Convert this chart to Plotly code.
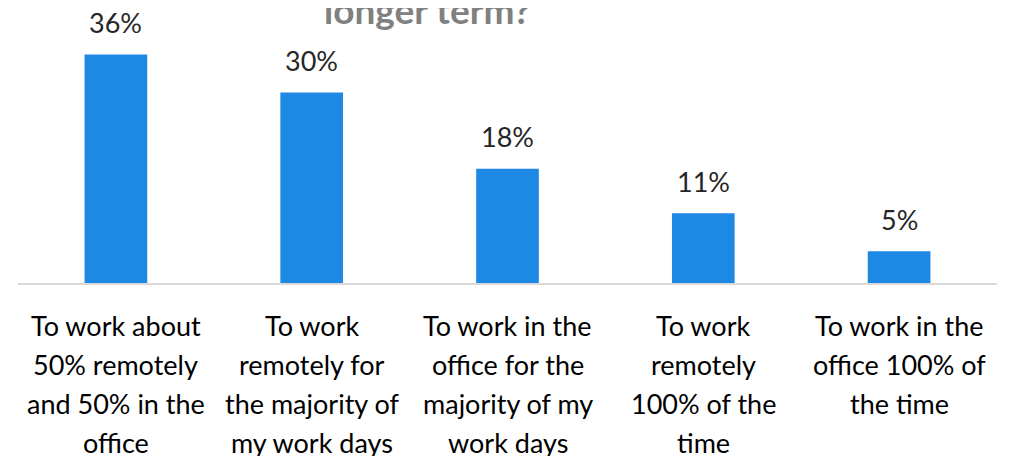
import plotly.graph_objects as go

# survey answers, one bar each
categories = [
    "To work about<br>50% remotely<br>and 50% in the<br>office",
    "To work<br>remotely for<br>the majority of<br>my work days",
    "To work in the<br>office for the<br>majority of my<br>work days",
    "To work<br>remotely<br>100% of the<br>time",
    "To work in the<br>office 100% of<br>the time",
]
shares = [36, 30, 18, 11, 5]
title_tail = "longer term?"

FONT = "Lato"
BAR_COLOR = "#1E88E5"
LINE_GAP = 39

fig = go.Figure()
fig.add_trace(go.Bar(
    x=list(range(len(categories))),
    y=shares,
    marker=dict(color=BAR_COLOR, line=dict(width=0)),
    hoverinfo="skip",
))

# value labels above the bars
for i, v in enumerate(shares):
    fig.add_annotation(
        x=i, y=v, xref="x", yref="y", text=f"{v}%", showarrow=False,
        yanchor="middle", yshift=32,
        font=dict(family=FONT, size=27, color="#262626"),
    )

# category labels, one annotation per line to keep the wide line spacing
for i, label in enumerate(categories):
    for k, line in enumerate(label.split("<br>")):
        fig.add_annotation(
            x=i, y=0, xref="x", yref="y", text=line, showarrow=False,
            yanchor="middle", yshift=-42 - k * LINE_GAP,
            font=dict(family=FONT, size=27, color="#000000"),
        )

# title is cut off at the top; only its last line shows
fig.add_annotation(
    x=(427 - 18) / 979, y=1, xref="paper", yref="paper", text=f"<b>{title_tail}</b>",
    showarrow=False, yanchor="bottom", yshift=-5,
    font=dict(family=FONT, size=37, color="#808080"),
)

# page body adds an 8px offset, so margins are trimmed by that much
fig.update_layout(
    width=1013, height=456,
    margin=dict(l=10, r=24, t=21, b=181),
    paper_bgcolor="white", plot_bgcolor="white",
    bargap=0.68, showlegend=False,
    xaxis=dict(range=[-0.5, 4.5], showticklabels=False, showgrid=False, zeroline=False,
               showline=True, linecolor="#D9D9D9", linewidth=2, ticks=""),
    yaxis=dict(range=[0, 40], visible=False, showgrid=False, zeroline=False),
)

fig.write_html("out.html")
